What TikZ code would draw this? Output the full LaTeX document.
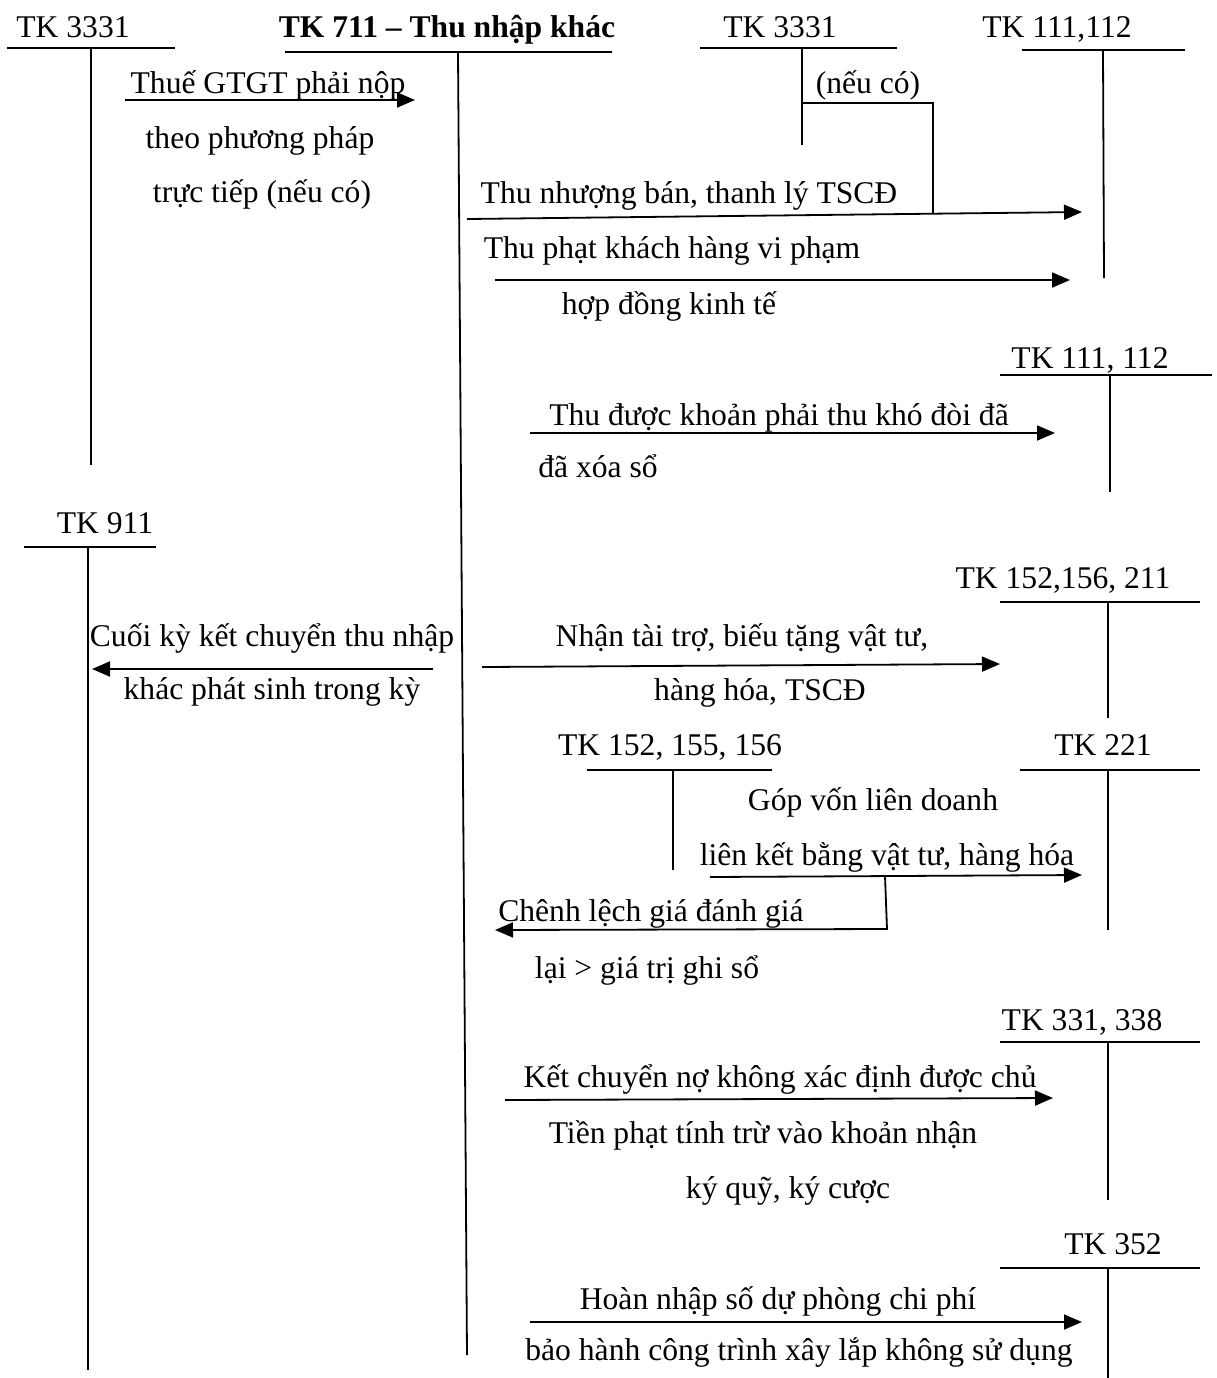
\documentclass[tikz,border=0pt]{standalone}
\usepackage{fontspec}
\setmainfont{Liberation Serif}
\usetikzlibrary{arrows.meta}
\begin{document}
\begin{tikzpicture}[x=0.5pt, y=-0.5pt, line width=0.9pt,
    every node/.style={font=\fontsize{15.8}{19}\selectfont, inner sep=0pt,
      text height=11pt, text depth=4pt},
    arr/.style={-{Triangle[length=9pt,width=7.5pt]}}]
  \useasboundingbox (0,0) rectangle (1217,1378);

  % cac tai khoan chu T
  \node (h3331a) at (73,30) {TK 3331};
  \coordinate (a1) at (7,48);    \coordinate (a2) at (175,48);
  \coordinate (a3) at (91,48);   \coordinate (a4) at (91,465);
  \node (h711) at (447,30) {\bfseries TK 711 – Thu nhập khác};
  \coordinate (b1) at (285,52);  \coordinate (b2) at (612,52);
  \coordinate (b3) at (458,52);  \coordinate (b4) at (467,1355);
  \node (h3331b) at (780,30) {TK 3331};
  \coordinate (c1) at (700,48);  \coordinate (c2) at (897,48);
  \coordinate (c3) at (802,48);  \coordinate (c4) at (802,145);
  \node (h111a) at (1057,30) {TK 111,112};
  \coordinate (d1) at (1022,50); \coordinate (d2) at (1185,50);
  \coordinate (d3) at (1103,50); \coordinate (d4) at (1104,278);
  \node (h111b) at (1090,361) {TK 111, 112};
  \coordinate (e1) at (1000,375); \coordinate (e2) at (1212,375);
  \coordinate (e3) at (1110,375); \coordinate (e4) at (1110,492);
  \node (h911) at (105,526) {TK 911};
  \coordinate (f1) at (24,547);  \coordinate (f2) at (156,547);
  \coordinate (f3) at (88,547);  \coordinate (f4) at (88,1370);
  \node (h152a) at (1063,581) {TK 152,156, 211};
  \coordinate (g1) at (1000,602); \coordinate (g2) at (1200,602);
  \coordinate (g3) at (1108,602); \coordinate (g4) at (1108,718);
  \node (h152b) at (670,748) {TK 152, 155, 156};
  \coordinate (k1) at (587,770); \coordinate (k2) at (772,770);
  \coordinate (k3) at (673,770); \coordinate (k4) at (673,870);
  \node (h221) at (1103,748) {TK 221};
  \coordinate (i1) at (1020,770); \coordinate (i2) at (1200,770);
  \coordinate (i3) at (1108,770); \coordinate (i4) at (1108,930);
  \node (h331) at (1082,1023) {TK 331, 338};
  \coordinate (j1) at (1000,1042); \coordinate (j2) at (1200,1042);
  \coordinate (j3) at (1108,1042); \coordinate (j4) at (1108,1200);
  \node (h352) at (1113,1247) {TK 352};
  \coordinate (m1) at (1000,1268); \coordinate (m2) at (1200,1268);
  \coordinate (m3) at (1108,1268); \coordinate (m4) at (1108,1378);

  \foreach \t in {a,b,c,d,e,f,g,k,i,j,m} {
    \draw (\t1) -- (\t2);
    \draw (\t3) -- (\t4);
  }

  % thue GTGT
  \node (n1) at (268,86) {Thuế GTGT phải nộp};
  \node (n2) at (260,141) {theo phương pháp};
  \node (n3) at (262,195) {trực tiếp (nếu có)};
  \coordinate (p1) at (125,100); \coordinate (p2) at (415,100);
  \draw[arr] (p1) -- (p2);

  % thanh ly TSCD
  \node (n4) at (868,86) {(nếu có)};
  \node (n5) at (689,196) {Thu nhượng bán, thanh lý TSCĐ};
  \coordinate (q1) at (467,219); \coordinate (q2) at (1082,212);
  \coordinate (q3) at (802,103); \coordinate (q4) at (933,103);
  \coordinate (q5) at (933,213);
  \draw[arr] (q1) -- (q2);
  \draw (q3) -- (q4) -- (q5);

  % thu phat
  \node (n6) at (672,251) {Thu phạt khách hàng vi phạm};
  \node (n7) at (669,307) {hợp đồng kinh tế};
  \coordinate (r1) at (495,280); \coordinate (r2) at (1070,280);
  \draw[arr] (r1) -- (r2);

  % no kho doi
  \node (n8) at (779,418) {Thu được khoản phải thu khó đòi đã};
  \node (n9) at (598,470) {đã xóa sổ};
  \coordinate (s1) at (530,433); \coordinate (s2) at (1055,433);
  \draw[arr] (s1) -- (s2);

  % ket chuyen 911
  \node (n10) at (272,639) {Cuối kỳ kết chuyển thu nhập};
  \node (n11) at (272,692) {khác phát sinh trong kỳ};
  \coordinate (u1) at (433,669); \coordinate (u2) at (92,669);
  \draw[arr] (u1) -- (u2);

  % tai tro, bieu tang
  \node (n12) at (742,639) {Nhận tài trợ, biếu tặng vật tư,};
  \node (n13) at (760,693) {hàng hóa, TSCĐ};
  \coordinate (v1) at (482,667); \coordinate (v2) at (1000,664);
  \draw[arr] (v1) -- (v2);

  % gop von
  \node (n14) at (873,803) {Góp vốn liên doanh};
  \node (n15) at (887,858) {liên kết bằng vật tư, hàng hóa};
  \node (n16) at (651,914) {Chênh lệch giá đánh giá};
  \node (n17) at (647,971) {lại > giá trị ghi sổ};
  \coordinate (w1) at (710,877); \coordinate (w2) at (1082,875);
  \coordinate (w3) at (885,876); \coordinate (w4) at (887,929);
  \coordinate (w5) at (495,930);
  \draw[arr] (w1) -- (w2);
  \draw[arr] (w3) -- (w4) -- (w5);

  % no khong xac dinh chu
  \node (n18) at (780,1080) {Kết chuyển nợ không xác định được chủ};
  \node (n19) at (763,1136) {Tiền phạt tính trừ vào khoản nhận};
  \node (n20) at (788,1191) {ký quỹ, ký cược};
  \coordinate (x1) at (505,1100); \coordinate (x2) at (1053,1098);
  \draw[arr] (x1) -- (x2);

  % du phong bao hanh
  \node (n21) at (778,1302) {Hoàn nhập số dự phòng chi phí};
  \node (n22) at (799,1353) {bảo hành công trình xây lắp không sử dụng};
  \coordinate (y1) at (530,1322); \coordinate (y2) at (1082,1322);
  \draw[arr] (y1) -- (y2);
\end{tikzpicture}
\end{document}
